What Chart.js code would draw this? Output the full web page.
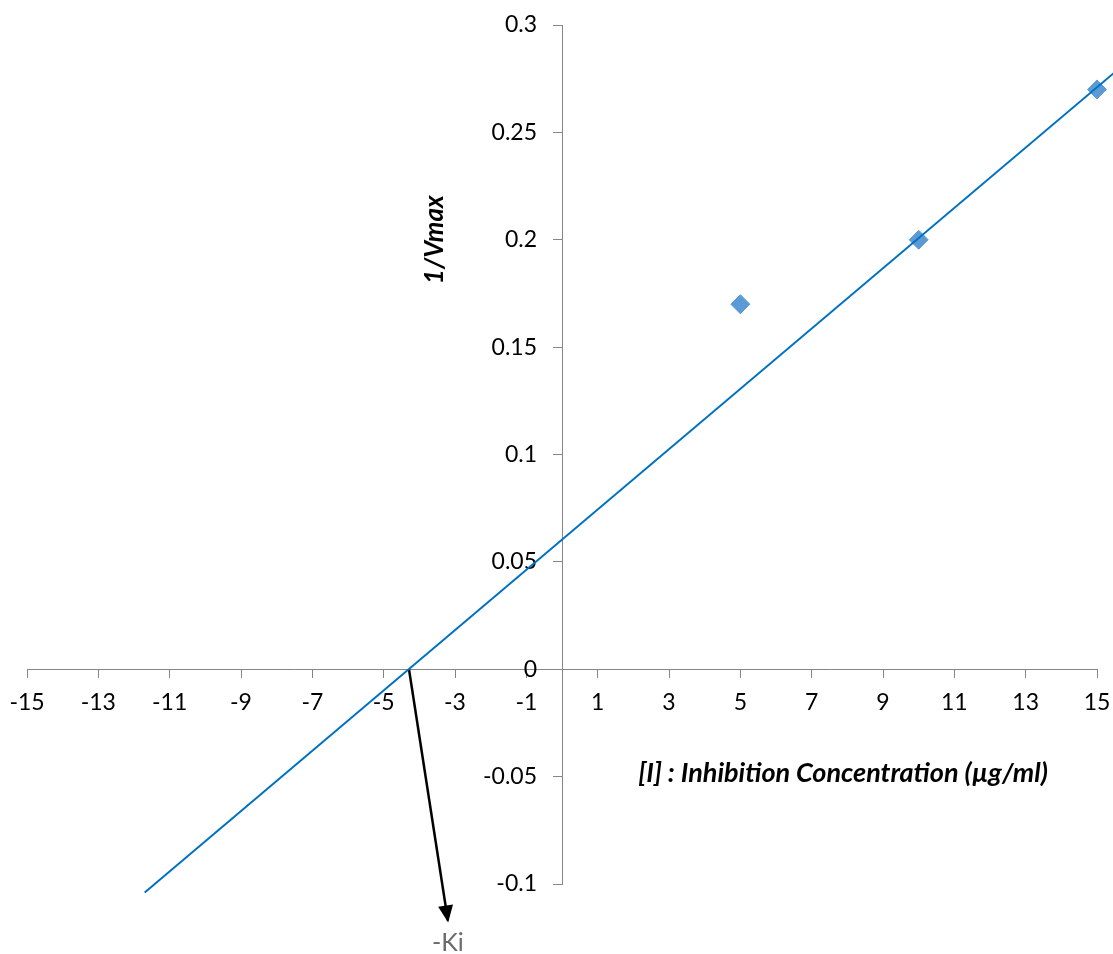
<!DOCTYPE html>
<html>
<head>
<meta charset="utf-8">
<script src="https://cdn.jsdelivr.net/npm/chart.js@4"></script>
<style>
  html, body { margin: 0; padding: 0; background: #fff; }
  #wrap { width: 1113px; height: 954px; }
</style>
</head>
<body>
<div id="wrap"><canvas id="myChart"></canvas></div>
<script>
// Datos
const inhibitorConc = [5, 10, 15];
const invVmax = [0.17, 0.2, 0.27];
const trendX = [-11.7, 15.5];
const trendY = [-0.104, 0.278];
const kiArrowX = [-4.29, -3.2];
const kiArrowY = [0, -0.117];
const xTicks = [-15, -13, -11, -9, -7, -5, -3, -1, 1, 3, 5, 7, 9, 11, 13, 15];
const yTicks = [-0.1, -0.05, 0, 0.05, 0.1, 0.15, 0.2, 0.25, 0.3];
const xTitle = '[I] : Inhibition Concentration (µg/ml)';
const yTitle = '1/Vmax';
const kiLabel = '-Ki';

const toPoints = (xs, ys) => xs.map((v, i) => ({x: v, y: ys[i]}));

// sin relleno extra de las escalas
const noScalePadding = s => {
  s.paddingTop = 0; s.paddingBottom = 0; s.paddingLeft = 0; s.paddingRight = 0;
};

// flecha, titulos y etiqueta -Ki
const annotate = {
  id: 'annotate',
  afterDraw(chart) {
    const {ctx, scales: {x, y}} = chart;
    const meta = chart.getDatasetMeta(1);
    const p0 = meta.data[0], p1 = meta.data[1];
    const ang = Math.atan2(p1.y - p0.y, p1.x - p0.x);

    ctx.save();
    ctx.fillStyle = '#000';
    ctx.translate(p1.x, p1.y);
    ctx.rotate(ang);
    ctx.beginPath();
    ctx.moveTo(2, 0);
    ctx.lineTo(-15, -7.5);
    ctx.lineTo(-15, 7.5);
    ctx.closePath();
    ctx.fill();
    ctx.restore();

    ctx.save();
    ctx.fillStyle = '#000';
    ctx.textAlign = 'center';
    ctx.textBaseline = 'middle';
    ctx.font = 'italic bold 27px Lato';
    ctx.fillText(xTitle, x.getPixelForValue(7.88), y.getPixelForValue(-0.0484));

    ctx.font = 'italic bold 26px Lato';
    ctx.translate(x.getPixelForValue(-3.56), y.getPixelForValue(0.2));
    ctx.rotate(-Math.PI / 2);
    ctx.fillText(yTitle, 0, 0);
    ctx.restore();

    ctx.save();
    ctx.fillStyle = '#6b6b6b';
    ctx.textAlign = 'center';
    ctx.textBaseline = 'middle';
    ctx.font = '25px Lato';
    ctx.fillText(kiLabel, p1.x, p1.y + 22);
    ctx.restore();
  }
};

const ctx = document.getElementById('myChart');

new Chart(ctx, {
  type: 'scatter',
  data: {
    datasets: [{
      data: toPoints(trendX, trendY),
      showLine: true,
      borderColor: '#0070C0',
      borderWidth: 2,
      pointRadius: 0,
      clip: false
    }, {
      data: toPoints(kiArrowX, kiArrowY),
      showLine: true,
      borderColor: '#000',
      borderWidth: 2.5,
      pointRadius: 0,
      clip: false
    }, {
      data: toPoints(inhibitorConc, invVmax),
      pointStyle: 'rectRot',
      pointRadius: 9.5,
      backgroundColor: '#5B9BD5',
      borderColor: '#5B9BD5',
      borderWidth: 1,
      clip: false
    }]
  },
  options: {
    responsive: true,
    maintainAspectRatio: false,
    animation: false,
    events: [],
    layout: { autoPadding: false, padding: { left: 27, right: 16, top: 25, bottom: 70 } },
    plugins: { legend: { display: false }, tooltip: { enabled: false } },
    scales: {
      x: {
        type: 'linear',
        position: { y: 0 },
        min: -15,
        max: 15,
        afterBuildTicks: s => { s.ticks = xTicks.map(v => ({value: v})); },
        afterFit: noScalePadding,
        grid: { drawOnChartArea: false, drawTicks: true, tickLength: 8, color: '#868686' },
        border: { color: '#868686', width: 1 },
        ticks: {
          autoSkip: false,
          maxRotation: 0,
          padding: 12,
          color: '#000',
          font: { family: 'Lato', size: 23 },
          callback: v => String(v)
        }
      },
      y: {
        type: 'linear',
        position: 'center',
        min: -0.1,
        max: 0.3,
        afterBuildTicks: s => { s.ticks = yTicks.map(v => ({value: v})); },
        afterFit: noScalePadding,
        grid: { drawOnChartArea: false, drawTicks: true, tickLength: 9, color: '#868686' },
        border: { color: '#868686', width: 1 },
        ticks: {
          autoSkip: false,
          padding: 16,
          color: '#000',
          font: { family: 'Lato', size: 23 },
          callback: v => String(v)
        }
      }
    }
  },
  plugins: [annotate]
});
</script>
</body>
</html>
